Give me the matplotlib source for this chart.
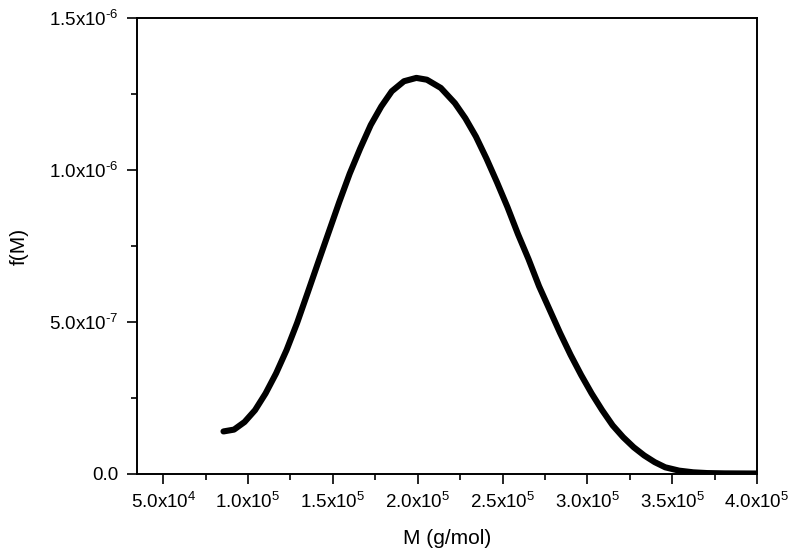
import matplotlib.pyplot as plt
from matplotlib.ticker import FixedLocator, MultipleLocator

plt.rcParams['font.family'] = ['Liberation Sans', 'DejaVu Sans']
plt.rcParams['mathtext.fontset'] = 'custom'
plt.rcParams['mathtext.rm'] = 'Liberation Sans'
plt.rcParams['mathtext.default'] = 'regular'

# values
M = [8.55e4, 9.17e4, 9.79e4, 1.041e5, 1.103e5, 1.165e5, 1.227e5, 1.289e5,
     1.351e5, 1.413e5, 1.475e5, 1.537e5, 1.599e5, 1.661e5, 1.723e5, 1.785e5,
     1.847e5, 1.919e5, 1.992e5, 2.054e5, 2.136e5, 2.219e5, 2.281e5, 2.343e5,
     2.405e5, 2.467e5, 2.529e5, 2.591e5, 2.653e5, 2.715e5, 2.777e5, 2.839e5,
     2.901e5, 2.963e5, 3.025e5, 3.087e5, 3.149e5, 3.211e5, 3.273e5, 3.335e5,
     3.397e5, 3.459e5, 3.541e5, 3.624e5, 3.706e5, 3.81e5, 4.0e5]
fM = [1.40e-7, 1.46e-7, 1.71e-7, 2.10e-7, 2.65e-7, 3.31e-7, 4.08e-7, 4.97e-7,
      5.96e-7, 6.96e-7, 7.95e-7, 8.94e-7, 9.88e-7, 1.071e-6, 1.148e-6, 1.209e-6,
      1.259e-6, 1.292e-6, 1.303e-6, 1.297e-6, 1.270e-6, 1.220e-6, 1.170e-6, 1.110e-6,
      1.038e-6, 9.60e-7, 8.78e-7, 7.89e-7, 7.07e-7, 6.18e-7, 5.41e-7, 4.64e-7,
      3.92e-7, 3.26e-7, 2.65e-7, 2.10e-7, 1.60e-7, 1.21e-7, 8.8e-8, 6.1e-8,
      3.9e-8, 2.2e-8, 1.1e-8, 5.5e-9, 3e-9, 2e-9, 1.5e-9]

x_ticks = [5e4, 1e5, 1.5e5, 2e5, 2.5e5, 3e5, 3.5e5, 4e5]
x_labels = ['5.0x10$^{4}$', '1.0x10$^{5}$', '1.5x10$^{5}$', '2.0x10$^{5}$',
            '2.5x10$^{5}$', '3.0x10$^{5}$', '3.5x10$^{5}$', '4.0x10$^{5}$']
y_ticks = [0.0, 5e-7, 1e-6, 1.5e-6]
y_labels = ['0.0', r'5.0x10$^{\text{-}7}$', r'1.0x10$^{\text{-}6}$', r'1.5x10$^{\text{-}6}$']

fig = plt.figure(figsize=(7.95, 5.56), dpi=100)
ax = fig.add_axes([0.1723, 0.1475, 0.7799, 0.8201])

ax.plot(M, fM, color='black', lw=4.4, solid_capstyle='round', solid_joinstyle='round')

ax.set_xlim(3.45e4, 4.0e5)
ax.set_ylim(0, 1.5e-6)

ax.xaxis.set_major_locator(FixedLocator(x_ticks))
ax.set_xticklabels(x_labels)
ax.xaxis.set_minor_locator(MultipleLocator(2.5e4))
ax.yaxis.set_major_locator(FixedLocator(y_ticks))
ax.set_yticklabels(y_labels)
ax.yaxis.set_minor_locator(MultipleLocator(2.5e-7))

ax.tick_params(which='both', direction='out', top=False, right=False, width=1.2, labelsize=13.5)
ax.tick_params(which='major', length=7, pad=6)
ax.tick_params(which='minor', length=4)
for s in ax.spines.values():
    s.set_linewidth(1.4)

ax.set_xlabel('M (g/mol)', fontsize=15, labelpad=12)
ax.set_ylabel('f(M)', fontsize=15, labelpad=15)

fig.savefig('out.png', dpi=100)
